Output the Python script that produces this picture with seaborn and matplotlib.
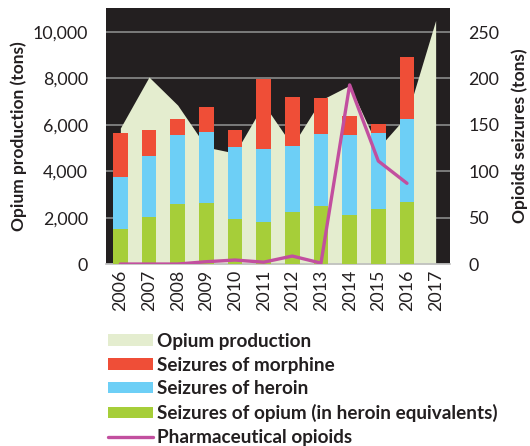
import matplotlib
matplotlib.use("Agg")
import matplotlib.pyplot as plt
import seaborn as sns
import numpy as np
import pandas as pd
from matplotlib.patches import Patch
from matplotlib.lines import Line2D

years = ["2006", "2007", "2008", "2009", "2010", "2011", "2012", "2013", "2014", "2015", "2016", "2017"]
opium_production = [5860, 8060, 6850, 5040, 4780, 6900, 5100, 7070, 7700, 5000, 6400, 10500]
seizure_years = years[:11]
opium_seizures = [38, 51, 65, 66, 48.5, 45.6, 56, 63, 52.8, 59, 66.5]
heroin_seizures = [56, 65.7, 73.7, 76.6, 77.9, 78.4, 71.5, 77, 85.9, 82.5, 90.1]
morphine_seizures = [47.5, 27.3, 17.3, 26.9, 18, 75, 52.5, 38.5, 20.8, 9, 66.1]
pharma_opioids = [0, 0, 0, 2.5, 4.3, 2, 8.6, 1, 193, 111, 87]

c_area = "#e4edcf"
c_morph = "#ef4e37"
c_heroin = "#6dcff6"
c_opium = "#a6ce39"
c_pharma = "#c24f9f"
c_bg = "#231f20"

sns.set_theme(style="white")
plt.rcParams["font.family"] = ["Lato", "DejaVu Sans"]

fig = plt.figure(figsize=(5.3, 4.46), dpi=100)
ax = fig.add_axes([0.2, 0.408, 0.649, 0.574])
ax.set_facecolor(c_bg)
ax2 = ax.twinx()
ax2.patch.set_visible(False)

x = np.arange(len(years))
ax.fill_between(x, 0, opium_production, color=c_area, zorder=1, linewidth=0)
ax.set_ylim(0, 11034)
ax.set_xlim(-0.5, len(years) - 0.5)
ax.set_yticks([0, 2000, 4000, 6000, 8000, 10000])
ax.set_yticklabels(["0", "2,000", "4,000", "6,000", "8,000", "10,000"])
ax.grid(axis="y", color="#8a8a8a", linewidth=1.2)
ax.grid(axis="x", visible=False)
ax.set_axisbelow(True)

df = pd.DataFrame({
    "year": seizure_years,
    "opium": opium_seizures,
    "heroin": heroin_seizures,
    "morphine": morphine_seizures,
})
df["h_top"] = df["opium"] + df["heroin"]
df["m_top"] = df["h_top"] + df["morphine"]

order = years
sns.barplot(data=df, x="year", y="m_top", order=order, color=c_morph, width=0.52,
            saturation=1, ax=ax2, linewidth=0)
sns.barplot(data=df, x="year", y="h_top", order=order, color=c_heroin, width=0.52,
            saturation=1, ax=ax2, linewidth=0)
sns.barplot(data=df, x="year", y="opium", order=order, color=c_opium, width=0.52,
            saturation=1, ax=ax2, linewidth=0)
ldf = pd.DataFrame({"year": seizure_years, "pharma": pharma_opioids})
sns.lineplot(data=ldf, x="year", y="pharma", color=c_pharma, linewidth=2.4, ax=ax2,
             sort=False)
ax2.set_ylim(0, 275.85)
ax2.set_xlim(-0.5, len(years) - 0.5)
ax2.set_yticks([0, 50, 100, 150, 200, 250])
ax2.set_xlabel("")
ax2.set_ylabel("")

ax.set_xticks(x)
ax.set_xticklabels(years, rotation=90)
ax2.set_xticks(x)

for a in (ax, ax2):
    for s in a.spines.values():
        s.set_visible(False)
    a.tick_params(length=0, labelsize=12.8, colors="#231f20")
ax.tick_params(axis="y", pad=13)
ax2.tick_params(axis="y", pad=13)
ax.tick_params(axis="x", pad=4)
ax.spines["bottom"].set_visible(True)
ax.spines["bottom"].set_color("#bdbdbd")
ax.spines["bottom"].set_linewidth(1.2)

ax.set_ylabel("Opium production (tons)", fontsize=12.5, fontweight="bold", color="#231f20", labelpad=4)
ax2.set_ylabel("Opioids seizures (tons)", fontsize=12.5, fontweight="bold", color="#231f20", labelpad=9)

handles = [
    Patch(facecolor=c_area, edgecolor="none"),
    Patch(facecolor=c_morph, edgecolor="none"),
    Patch(facecolor=c_heroin, edgecolor="none"),
    Patch(facecolor=c_opium, edgecolor="none"),
    Line2D([0], [0], color=c_pharma, linewidth=2.4),
]
labels = ["Opium production", "Seizures of morphine", "Seizures of heroin",
          "Seizures of opium (in heroin equivalents)", "Pharmaceutical opioids"]
leg = fig.legend(handles, labels, loc="upper left", bbox_to_anchor=(0.204, 0.254),
                 frameon=False, handlelength=2.35, handleheight=0.55, handletextpad=0.22,
                 labelspacing=0.36, borderaxespad=0, borderpad=0,
                 prop={"size": 13.6, "weight": "bold"})
for t in leg.get_texts():
    t.set_color("#231f20")

fig.savefig("out.png", dpi=100)
